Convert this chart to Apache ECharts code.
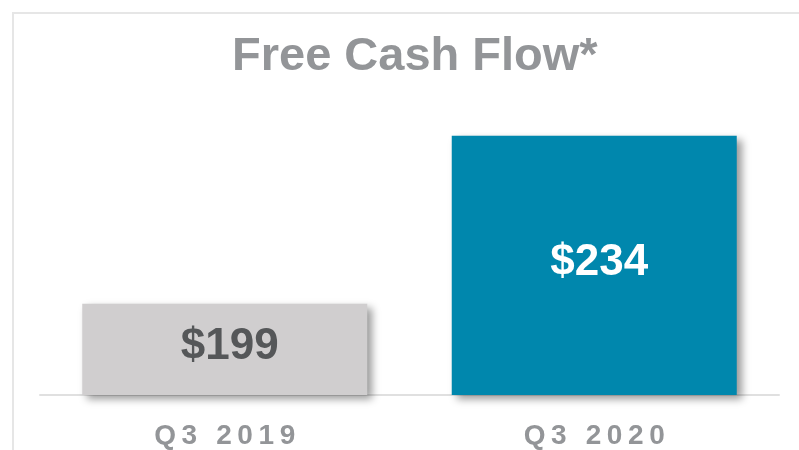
<!DOCTYPE html>
<html>
<head>
<meta charset="utf-8">
<script src="https://cdn.jsdelivr.net/npm/echarts@6/dist/echarts.min.js"></script>
<style>
  html, body { margin: 0; padding: 0; background: #fff; }
  #chart { width: 799px; height: 450px; }
</style>
</head>
<body>
<div id="chart"></div>
<script>
// data
const categories = ["Q3 2019", "Q3 2020"];
const values = [199, 234];
const barColors = ["#d0cecf", "#0087ad"];
const labelColors = ["#555759", "#ffffff"];

const chart = echarts.init(document.getElementById("chart"));

// spread the letters a little, like the original slide
function spaced(s) {
  return s.split("").join("\u2009");
}

const option = {
  animation: false,
  backgroundColor: "#fff",
  title: {
    text: "Free Cash Flow*",
    left: 227,
    top: 29,
    textStyle: {
      fontFamily: "Liberation Sans, Arial, sans-serif",
      fontSize: 47,
      fontWeight: "bold",
      color: "#939598",
    },
  },
  graphic: [
    {
      type: "rect",
      shape: { x: 13, y: 13, width: 900, height: 600 },
      style: { fill: "none", stroke: "#e6e6e6", lineWidth: 2 },
      silent: true,
    },
  ],
  grid: {
    left: 40,
    right: 20,
    top: 107,
    bottom: 54,
  },
  xAxis: {
    type: "category",
    data: categories,
    axisLine: { lineStyle: { color: "#e0e0e0", width: 2 } },
    axisTick: { show: false },
    axisLabel: {
      margin: 27,
      fontFamily: "Liberation Sans, Arial, sans-serif",
      fontSize: 28,
      fontWeight: "bold",
      color: "#939598",
      formatter: spaced,
    },
  },
  yAxis: {
    type: "value",
    min: 180,
    max: 240,
    show: false,
    splitLine: { show: false },
  },
  series: [
    {
      type: "bar",
      barWidth: 285,
      data: values.map((v, i) => ({
        value: v,
        itemStyle: { color: barColors[i] },
        label: { color: labelColors[i] },
      })),
      itemStyle: {
        shadowColor: "rgba(0, 0, 0, 0.4)",
        shadowBlur: 8,
        shadowOffsetX: 5,
        shadowOffsetY: 4,
      },
      label: {
        show: true,
        position: "inside",
        offset: [5, -3],
        fontFamily: "Liberation Sans, Arial, sans-serif",
        fontSize: 44,
        fontWeight: "bold",
        formatter: (p) => "$" + p.value,
      },
    },
  ],
};

chart.setOption(option);
</script>
</body>
</html>
